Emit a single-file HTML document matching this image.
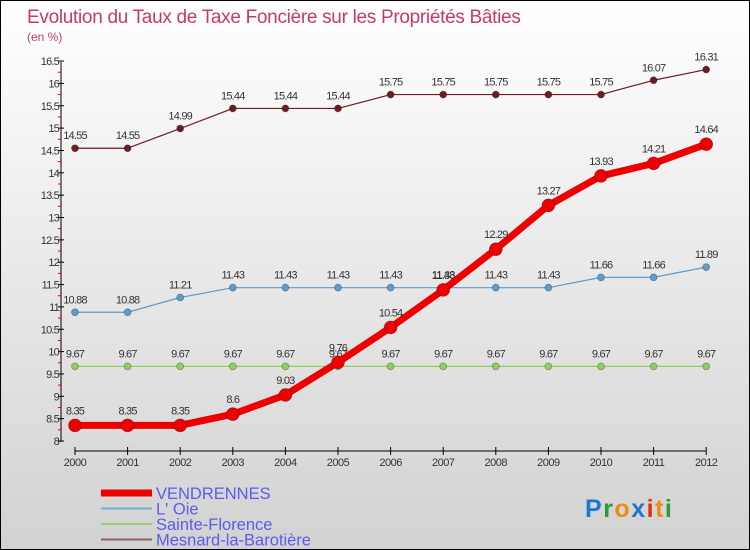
<!DOCTYPE html>
<html><head><meta charset="utf-8"><style>
body{margin:0;}
#c{width:748px;height:548px;border:1px solid #000;background:linear-gradient(#ffffff,#d2d2d2);position:relative;overflow:hidden;font-family:"Liberation Sans",sans-serif;}
</style></head><body>
<div id="c">
<svg id="s" width="748" height="548" xmlns="http://www.w3.org/2000/svg"></svg>
</div>
<script>
const years=[2000,2001,2002,2003,2004,2005,2006,2007,2008,2009,2010,2011,2012];
const vendrennes=[8.35,8.35,8.35,8.6,9.03,9.76,10.54,11.38,12.29,13.27,13.93,14.21,14.64];
const loie=[10.88,10.88,11.21,11.43,11.43,11.43,11.43,11.43,11.43,11.43,11.66,11.66,11.89];
const sainteFlorence=[9.67,9.67,9.67,9.67,9.67,9.67,9.67,9.67,9.67,9.67,9.67,9.67,9.67];
const mesnard=[14.55,14.55,14.99,15.44,15.44,15.44,15.75,15.75,15.75,15.75,15.75,16.07,16.31];
const yTicks=[8,8.5,9,9.5,10,10.5,11,11.5,12,12.5,13,13.5,14,14.5,15,15.5,16,16.5];
const NS="http://www.w3.org/2000/svg";
const s=document.getElementById('s');
const X=i=>74+i*52.6;
const Y=v=>440-(v-8)*44.7;
function el(t,a,txt){const e=document.createElementNS(NS,t);for(const k in a)e.setAttribute(k,a[k]);if(txt!==undefined)e.textContent=txt;s.appendChild(e);return e;}
let e;
e=el('text',{x:26,y:22,fill:'#c8386a','font-size':19,'letter-spacing':'-0.3'},'Evolution du Taux de Taxe Foncière sur les Propriétés Bâties');


e=el('text',{x:26,y:40,fill:'#c8386a','font-size':12},'(en %)');


e=el('line',{x1:60,y1:61,x2:60,y2:441,stroke:'#000','stroke-width':1});


yTicks.forEach((v,i)=>{
  const t=el('line',{x1:57,y1:Y(v),x2:63,y2:Y(v),stroke:'#000'});
  
  
  if(i<yTicks.length-1){const m=el('line',{x1:57,y1:Y(v+0.25),x2:60,y2:Y(v+0.25),stroke:'#e00'});
  
  }
  const l=el('text',{x:58,y:Y(v)+4,'text-anchor':'end','font-size':11,fill:'#333','letter-spacing':'-0.8'},String(v));
  
  
});
e=el('line',{x1:X(0),y1:450,x2:X(years.length-1),y2:450,stroke:'#000'});


years.forEach((y,i)=>{
  const t=el('line',{x1:X(i),y1:446,x2:X(i),y2:454,stroke:'#000'});
  
  
  const l=el('text',{x:X(i),y:465,'text-anchor':'middle','font-size':11,fill:'#333','letter-spacing':'-0.5'},String(y));
  
  
});
function series(data,color,w,r,name,labelDy){
  const pts=data.map((v,i)=>X(i)+','+Y(v)).join(' ');
  const p=el('polyline',{points:pts,fill:'none',stroke:color,'stroke-width':w,'stroke-linejoin':'round'});
  
  
  data.forEach((v,i)=>{
    const c=el('circle',{cx:X(i),cy:Y(v),r:r,fill:color,stroke:'rgba(0,0,0,0.3)','stroke-width':0.8});
    
    
    const l=el('text',{x:X(i),y:Y(v)+labelDy,'text-anchor':'middle','font-size':11,fill:'#333','letter-spacing':'-0.8'},String(v));
    
    
  });
}
series(mesnard,'#6e1c24',1.2,3.5,'mesnard',-9);
series(loie,'#5e9ccc',1.2,3.5,'loie',-9);
series(sainteFlorence,'#8ed060',1.2,3.5,'sainte-florence',-9);
series(vendrennes,'#ee0000',7,6.5,'vendrennes',-11);
const legend=[['VENDRENNES','#ee0000',7],["L' Oie",'#7aaed0',2],['Sainte-Florence','#98d070',2],['Mesnard-la-Barotière','#946060',2]];
legend.forEach((g,i)=>{
  const y=492+i*15.5;
  const l=el('line',{x1:100,y1:y,x2:151,y2:y,stroke:g[1],'stroke-width':g[2]});
  
  
  const t=el('text',{x:155,y:y+6,'font-size':16.5,fill:'#5b5bf0','letter-spacing':'0'},g[0]);
  
  
});
const logo=[['P','#1a78d0'],['r','#2a9a3a'],['o','#f08a10'],['x','#1a78d0'],['i','#e03010'],['t','#f08a10'],['i','#2a9a3a']];
const lt=el('text',{x:584,y:516,'font-size':25,'font-weight':'bold','letter-spacing':'1.5'});


logo.forEach(c=>{const sp=document.createElementNS(NS,'tspan');sp.setAttribute('fill',c[1]);sp.textContent=c[0];lt.appendChild(sp);});
</script>
</body></html>
